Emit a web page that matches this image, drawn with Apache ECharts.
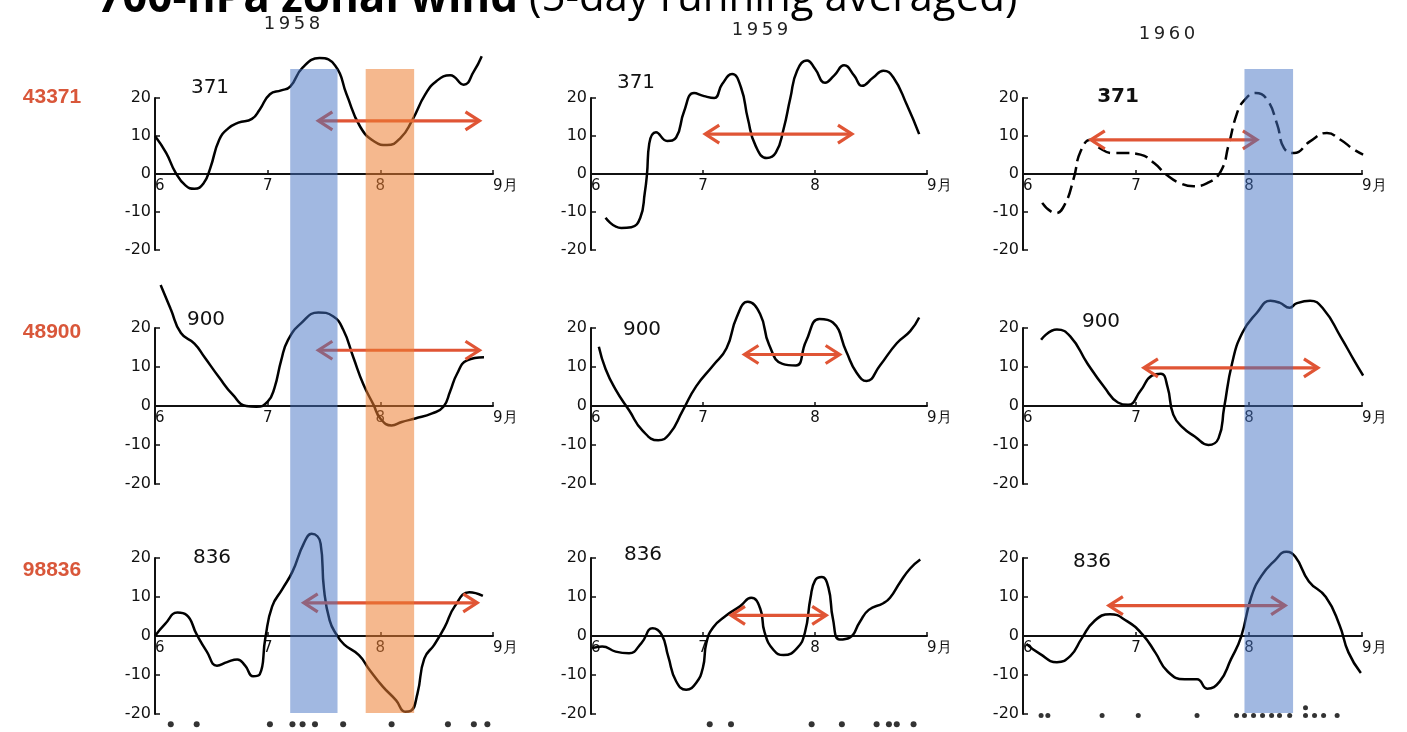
<!DOCTYPE html>
<html>
<head>
<meta charset="utf-8">
<script src="https://cdn.jsdelivr.net/npm/echarts@6/dist/echarts.min.js"></script>
<style>
  html, body { margin: 0; background: #fff; }
  #chart { width: 1407px; height: 732px; }
</style>
</head>
<body>
<div id="chart"></div>
<script>
  // axis ticks (x in months, June=6 .. September=9)
  var monthTicks = [6, 7, 8, 9]
  var monthLabels = ['6', '7', '8', '9月']
  var years = ['1958', '1959', '1960']
  var stations = ['43371', '48900', '98836']
  var stationShort = ['371', '900', '836']

  // 700-hPa zonal wind, [month, m/s]
  var wind43371_1958 = [[6.00,10],[6.10,5.5],[6.18,0.5],[6.27,-3],[6.35,-3.9],[6.43,-2.5],[6.49,1.5],[6.57,9],[6.65,12],[6.74,13.5],[6.86,14.5],[6.93,17],[7.02,21],[7.12,22],[7.20,23],[7.31,28],[7.46,30.5],[7.60,28.5],[7.70,21],[7.82,12.5],[7.95,8.5],[8.06,7.6],[8.18,9.5],[8.28,14],[8.40,21],[8.50,24.5],[8.62,26],[8.74,23.5],[8.83,27],[8.90,31]]
  var wind43371_1959 = [[6.13,-11.5],[6.27,-14.2],[6.36,-14],[6.44,-11.5],[6.48,-5],[6.50,0],[6.52,8],[6.58,11],[6.68,8.7],[6.76,9.6],[6.83,16.4],[6.92,21.3],[7.01,20.5],[7.10,20],[7.17,23.6],[7.26,26.3],[7.34,22.7],[7.40,14.6],[7.47,7.4],[7.57,4.2],[7.65,5.6],[7.72,11.9],[7.78,20],[7.84,27.2],[7.93,29.9],[8.00,27.7],[8.09,24],[8.17,25.9],[8.26,28.6],[8.35,25.9],[8.42,23.2],[8.52,25.4],[8.61,27.2],[8.70,25.4],[8.82,18.2],[8.93,10.5]]
  var wind43371_1960 = [[6.17,-7.6],[6.29,-10.3],[6.37,-8],[6.45,-1],[6.51,6],[6.60,9],[6.68,6.8],[6.80,5.5],[6.92,5.5],[7.04,5.1],[7.16,2.9],[7.27,-0.2],[7.39,-2.4],[7.51,-3.2],[7.63,-2.4],[7.75,0.7],[7.82,7.7],[7.89,15.6],[7.95,19.1],[8.06,21.3],[8.16,19.6],[8.25,13],[8.31,6.8],[8.40,5.5],[8.54,8.6],[8.69,10.8],[8.81,9],[8.93,6.4],[9.01,5.1]]
  var wind48900_1958 = [[6.05,31],[6.14,24.8],[6.23,18.7],[6.35,16],[6.44,12.5],[6.57,7.3],[6.69,2.9],[6.81,0],[6.90,-0.2],[7.00,1.1],[7.06,4.6],[7.12,11.7],[7.18,16.9],[7.30,21.3],[7.45,24],[7.58,23],[7.67,19.6],[7.76,12.5],[7.85,5.5],[7.94,0.3],[8.00,-3.2],[8.10,-5],[8.19,-4.1],[8.31,-3.2],[8.46,-1.9],[8.56,-0.2],[8.62,3.8],[8.68,8.2],[8.77,11.7],[8.92,12.5]]
  var wind48900_1959 = [[6.07,15.2],[6.13,9.5],[6.22,4.2],[6.34,-1.1],[6.46,-6.3],[6.60,-8.8],[6.70,-7.2],[6.82,-1.1],[6.94,5.1],[7.09,10.4],[7.21,14.8],[7.30,22.7],[7.40,26.7],[7.51,23.6],[7.59,15.7],[7.71,10.8],[7.83,10.4],[7.92,16.6],[8.04,22.3],[8.16,21.4],[8.28,13.9],[8.37,8.6],[8.46,6.4],[8.58,10.4],[8.73,16.1],[8.85,19.2],[8.93,22.7]]
  var wind48900_1960 = [[6.16,17],[6.30,19.6],[6.42,17.8],[6.57,10.9],[6.72,4.8],[6.84,0.9],[6.93,0.3],[7.04,3.9],[7.14,7.8],[7.22,8.3],[7.28,4.8],[7.33,-2.2],[7.42,-5.7],[7.52,-7.8],[7.64,-10],[7.73,-8.3],[7.78,-0.4],[7.85,10.9],[7.94,18.7],[8.07,23.9],[8.19,27],[8.27,26.5],[8.36,25.2],[8.42,26.3],[8.54,27],[8.66,24.8],[8.81,17.8],[8.93,11.7],[9.01,7.8]]
  var wind98836_1958 = [[6.00,0],[6.09,3.1],[6.20,6],[6.28,5.4],[6.37,0.4],[6.46,-4],[6.55,-7.6],[6.64,-6.7],[6.73,-6],[6.80,-7.6],[6.87,-10.3],[6.93,-9.8],[6.98,-0.4],[7.04,7.6],[7.13,12],[7.22,16.5],[7.32,23.7],[7.39,26.2],[7.47,23.7],[7.50,12],[7.55,4],[7.61,0.4],[7.68,-2.2],[7.81,-4.9],[7.90,-8.5],[8.02,-12.9],[8.14,-16.5],[8.22,-19.4],[8.27,-19.2],[8.33,-14.7],[8.39,-5.8],[8.48,-2.2],[8.57,2.2],[8.66,7.6],[8.79,11.2],[8.91,10.3]]
  var wind98836_1959 = [[6.01,-3.1],[6.10,-2.7],[6.22,-4],[6.34,-4.4],[6.45,-1.8],[6.55,2],[6.63,0.4],[6.69,-5.3],[6.76,-11.6],[6.85,-13.8],[6.94,-12],[7.00,-8],[7.03,-1.8],[7.09,2.2],[7.21,5.3],[7.33,7.6],[7.43,9.8],[7.51,7.1],[7.55,0.9],[7.63,-3.6],[7.72,-4.9],[7.84,-3.1],[7.91,0.9],[7.96,9.8],[8.00,14.2],[8.06,15.1],[8.12,12.4],[8.16,4.4],[8.22,-0.9],[8.31,-0.4],[8.40,3.6],[8.48,6.7],[8.61,8.4],[8.67,9.8],[8.76,13.8],[8.85,17.3],[8.94,19.6]]
  var wind98836_1960 = [[6.03,-2],[6.15,-4.6],[6.30,-6.7],[6.42,-5.1],[6.52,-0.6],[6.63,3.8],[6.77,5.6],[6.92,3.8],[7.06,0.3],[7.17,-4.2],[7.28,-9.1],[7.43,-11.1],[7.54,-11.1],[7.63,-13.5],[7.74,-11.7],[7.84,-6],[7.93,-0.2],[8.02,10],[8.11,15.4],[8.23,19.4],[8.33,21.6],[8.41,20.3],[8.53,14],[8.68,10],[8.80,2.9],[8.88,-4.2],[8.99,-9.5]]

  // red double arrows [from month, to month, level]
  var arrow43371 = [[7.45, 8.88, 14], [7.02, 8.33, 10.5], [6.60, 8.07, 9]]
  var arrow48900 = [[7.45, 8.88, 14.3], [7.37, 8.22, 13.2], [7.07, 8.61, 9.8]]
  var arrow98836 = [[7.32, 8.86, 8.5], [7.25, 8.10, 5.3], [6.76, 8.32, 7.8]]

  // dots under the bottom row [month, level]
  var dots1958 = [[6.14,-22.6],[6.37,-22.6],[7.02,-22.6],[7.22,-22.6],[7.31,-22.6],[7.42,-22.6],[7.67,-22.6],[8.10,-22.6],[8.60,-22.6],[8.83,-22.6],[8.95,-22.6]]
  var dots1959 = [[7.06,-22.6],[7.25,-22.6],[7.97,-22.6],[8.24,-22.6],[8.55,-22.6],[8.66,-22.6],[8.73,-22.6],[8.88,-22.6]]
  var dots1960 = [[6.16,-20.4],[6.22,-20.4],[6.70,-20.4],[7.02,-20.4],[7.54,-20.4],[7.89,-20.4],[7.96,-20.4],[8.04,-20.4],[8.12,-20.4],[8.20,-20.4],[8.27,-20.4],[8.36,-20.4],[8.50,-20.4],[8.50,-18.4],[8.58,-20.4],[8.66,-20.4],[8.78,-20.4]]

  // shaded periods [from month, to month]
  var blueBand1958 = [7.20, 7.62]
  var orangeBand1958 = [7.87, 8.30]
  var blueBand1960 = [7.96, 8.39]

  var winds = [
    [wind43371_1958, wind43371_1959, wind43371_1960],
    [wind48900_1958, wind48900_1959, wind48900_1960],
    [wind98836_1958, wind98836_1959, wind98836_1960]
  ]
  var arrows = [arrow43371, arrow48900, arrow98836]
  var dots = [dots1958, dots1959, dots1960]

  var colLeft = [155, 591, 1023]
  var colWidth = [338, 336, 339]
  var rowTop = [98, 328, 558]
  var rowHeight = [152, 156, 156]
  var red = '#e05535'
  var ink = '#111'

  var chart = echarts.init(document.getElementById('chart'))
  var grid = [], xAxis = [], yAxis = [], series = [], graphic = []

  for (var r = 0; r < 3; r++) {
    for (var c = 0; c < 3; c++) {
      var i = r * 3 + c
      grid.push({
        left: colLeft[c], top: rowTop[r], width: colWidth[c], height: rowHeight[r],
        containLabel: false, outerBoundsMode: 'none'
      })
      // month axis drawn through zero (labels follow it)
      xAxis.push({
        type: 'value', gridIndex: i, min: 6, max: 9, interval: 1,
        position: 'bottom', offset: -rowHeight[r] / 2,
        axisLine: { onZero: false, lineStyle: { color: ink, width: 2 } },
        axisTick: { inside: true, length: 4, lineStyle: { color: ink, width: 1.5 } },
        splitLine: { show: false },
        axisLabel: {
          color: ink, fontSize: 15, fontFamily: 'DejaVu Sans', margin: 5,
          alignMinLabel: 'left', alignMaxLabel: 'left',
          formatter: function (v) { return monthLabels[monthTicks.indexOf(v)] }
        }
      })
      yAxis.push({
        type: 'value', gridIndex: i, min: -20, max: 20, interval: 10,
        axisLine: { show: true, lineStyle: { color: ink, width: 2 } },
        axisTick: { show: true, inside: true, length: 5, lineStyle: { color: ink, width: 1.5 } },
        splitLine: { show: false },
        axisLabel: { color: ink, fontSize: 16, fontFamily: 'DejaVu Sans', margin: 4 }
      })
      series.push({
        type: 'line', xAxisIndex: i, yAxisIndex: i, data: winds[r][c],
        smooth: 0.5, showSymbol: false, clip: false, z: 2,
        lineStyle: { color: '#000', width: 2.5, type: (r === 0 && c === 2) ? [13, 6] : 'solid' }
      })
      series.push({
        type: 'custom', xAxisIndex: i, yAxisIndex: i, data: [arrows[r][c]],
        encode: { x: [0, 1], y: 2 }, z: 3, clip: false,
        renderItem: function (params, api) {
          var a = api.coord([api.value(0), api.value(2)])
          var b = api.coord([api.value(1), api.value(2)])
          var hl = 14, hw = 9
          var st = { stroke: red, lineWidth: 3.2, fill: null }
          return {
            type: 'group', children: [
              { type: 'line', shape: { x1: a[0] + 1, y1: a[1], x2: b[0] - 1, y2: b[1] }, style: st },
              { type: 'polyline', shape: { points: [[a[0] + hl, a[1] - hw], [a[0], a[1]], [a[0] + hl, a[1] + hw]] }, style: st },
              { type: 'polyline', shape: { points: [[b[0] - hl, b[1] - hw], [b[0], b[1]], [b[0] - hl, b[1] + hw]] }, style: st }
            ]
          }
        }
      })
      if (r === 2) {
        series.push({
          type: 'scatter', xAxisIndex: i, yAxisIndex: i, data: dots[c],
          symbolSize: c === 2 ? 5 : 6, clip: false, itemStyle: { color: '#000' }
        })
      }
      // station short number inside each panel
      var shortPos = [[[210, 88], [636, 83], [1118, 97]], [[206, 320], [642, 330], [1101, 322]], [[212, 558], [643, 555], [1092, 562]]]
      graphic.push({
        type: 'text', x: shortPos[r][c][0], y: shortPos[r][c][1], z: 5,
        style: { text: stationShort[r], fill: '#111', font: (c === 2 && r === 0 ? 'bold ' : '') + '20px "DejaVu Sans"', align: 'center', verticalAlign: 'middle' }
      })
    }
    graphic.push({
      type: 'text', x: 52, y: [97, 332, 570][r], z: 5,
      style: { text: stations[r], fill: '#d9573a', font: 'bold 21px "Liberation Sans"', align: 'center', verticalAlign: 'middle' }
    })
  }

  var yearPos = [[292, 24], [760, 30], [1167, 34]]
  years.forEach(function (y, k) {
    graphic.push({
      type: 'text', x: yearPos[k][0], y: yearPos[k][1], z: 5,
      style: { text: y.split('').join('\u2009'), fill: '#222', font: '18px "DejaVu Sans"', align: 'center', verticalAlign: 'middle' }
    })
  })

  graphic.push({
    type: 'text', x: 97, y: 21, z: 5,
    style: {
      text: '{b|700-hPa zonal wind}{n|\u00a0(5-day running averaged)}',
      verticalAlign: 'bottom', align: 'left',
      rich: {
        b: { fontFamily: 'Open Sans', fontWeight: 'bold', fontSize: 44, fill: '#000' },
        n: { fontFamily: 'Open Sans', fontSize: 42, fill: '#000' }
      }
    }
  })

  chart.setOption({
    animation: false,
    backgroundColor: '#fff',
    grid: grid, xAxis: xAxis, yAxis: yAxis, series: series, graphic: graphic
  })

  // vertical shaded periods spanning all three rows
  function bandRect(col, span, color) {
    var x1 = chart.convertToPixel({ xAxisIndex: col }, span[0])
    var x2 = chart.convertToPixel({ xAxisIndex: col }, span[1])
    return { type: 'rect', z: 50, shape: { x: x1, y: 69, width: x2 - x1, height: 644 }, style: { fill: color } }
  }
  chart.setOption({
    graphic: graphic.concat([
      bandRect(0, blueBand1958, 'rgba(68,114,196,0.5)'),
      bandRect(0, orangeBand1958, 'rgba(237,125,49,0.55)'),
      bandRect(2, blueBand1960, 'rgba(68,114,196,0.5)')
    ])
  })
</script>
</body>
</html>
